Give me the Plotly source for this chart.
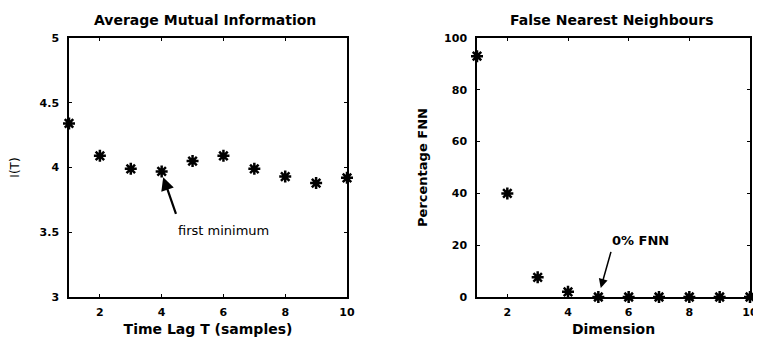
import plotly.graph_objects as go

lag = [1, 2, 3, 4, 5, 6, 7, 8, 9, 10]
ami = [4.34, 4.09, 3.99, 3.97, 4.05, 4.09, 3.99, 3.93, 3.88, 3.92]

dim = [1, 2, 3, 4, 5, 6, 7, 8, 9, 10]
fnn = [93, 40, 7.6, 2, 0, 0, 0, 0, 0, 0]

W, H = 761, 338
OFF = 8  # page body margin offset

def px(x):
    return (x - OFF) / W

def py(y):
    return 1 - (y - OFF) / H

FONT = "DejaVu Sans, Liberation Sans, Arial, sans-serif"
fig = go.Figure()
mk = dict(symbol="asterisk-open", size=10, color="black", line=dict(width=2.5, color="black"))
fig.add_trace(go.Scatter(x=lag, y=ami, mode="markers", marker=mk, cliponaxis=False,
                         xaxis="x", yaxis="y", showlegend=False))
fig.add_trace(go.Scatter(x=dim, y=fnn, mode="markers", marker=mk, cliponaxis=False,
                         xaxis="x2", yaxis="y2", showlegend=False))

ax_common = dict(showline=True, linecolor="black", linewidth=1.5, mirror="ticks",
                 ticks="inside", ticklen=3, tickcolor="black", showgrid=False, zeroline=False,
                 automargin=False,
                 tickfont=dict(family=FONT, size=11, color="black", weight="bold"))
tfont = dict(family=FONT, size=14, color="black", weight="bold")
ydom = [py(297), py(38)]
fig.update_layout(
    width=W, height=H, margin=dict(l=0, r=0, t=0, b=0),
    paper_bgcolor="white", plot_bgcolor="white",
    xaxis=dict(domain=[px(69), px(347)], range=[1, 10], tickvals=[2, 4, 6, 8, 10], anchor="y",
               ticklabelstandoff=4,
               title=dict(text="Time Lag T (samples)", standoff=6, font=tfont), **ax_common),
    yaxis=dict(domain=ydom, range=[3, 5], tickvals=[3, 3.5, 4, 4.5, 5], anchor="x",
               ticklabelstandoff=6,
               title=dict(text="I(T)", standoff=18,
                          font=dict(family=FONT, size=12, color="black")), **ax_common),
    xaxis2=dict(domain=[px(477), px(750)], range=[1, 10], tickvals=[2, 4, 6, 8, 10], anchor="y2",
                ticklabelstandoff=4,
                title=dict(text="Dimension", standoff=6, font=tfont), **ax_common),
    yaxis2=dict(domain=ydom, range=[0, 100], tickvals=[0, 20, 40, 60, 80, 100], anchor="x2",
                ticklabelstandoff=6,
                title=dict(text="Percentage FNN", standoff=14,
                           font=dict(family=FONT, size=13, color="black", weight="bold")), **ax_common),
)

fig.add_annotation(text="Average Mutual Information", xref="paper", yref="paper",
                   x=px(205), y=py(20), xanchor="center", yanchor="middle",
                   showarrow=False, font=tfont)
fig.add_annotation(text="False Nearest Neighbours", xref="paper", yref="paper",
                   x=px(612), y=py(20), xanchor="center", yanchor="middle",
                   showarrow=False, font=tfont)

afont = dict(family=FONT, size=13, color="black")
fig.add_annotation(text="first minimum", xref="x", yref="y", x=4.45, y=3.51,
                   xanchor="left", yanchor="middle", showarrow=False, font=afont)
fig.add_annotation(text="", xref="x", yref="y", x=4.05, y=3.925, axref="x", ayref="y",
                   ax=4.48, ay=3.63, showarrow=True, arrowhead=2, arrowsize=1.2, arrowwidth=2.2,
                   arrowcolor="black")
fig.add_annotation(text="0% FNN", xref="x2", yref="y2", x=5.4, y=22,
                   xanchor="left", yanchor="middle", showarrow=False,
                   font=dict(family=FONT, size=13, color="black", weight="bold"))
fig.add_annotation(text="", xref="x2", yref="y2", x=5.08, y=3.5, axref="x2", ayref="y2",
                   ax=5.43, ay=18, showarrow=True, arrowhead=2, arrowsize=1.2, arrowwidth=1.5,
                   arrowcolor="black")

fig.write_html("out.html")
